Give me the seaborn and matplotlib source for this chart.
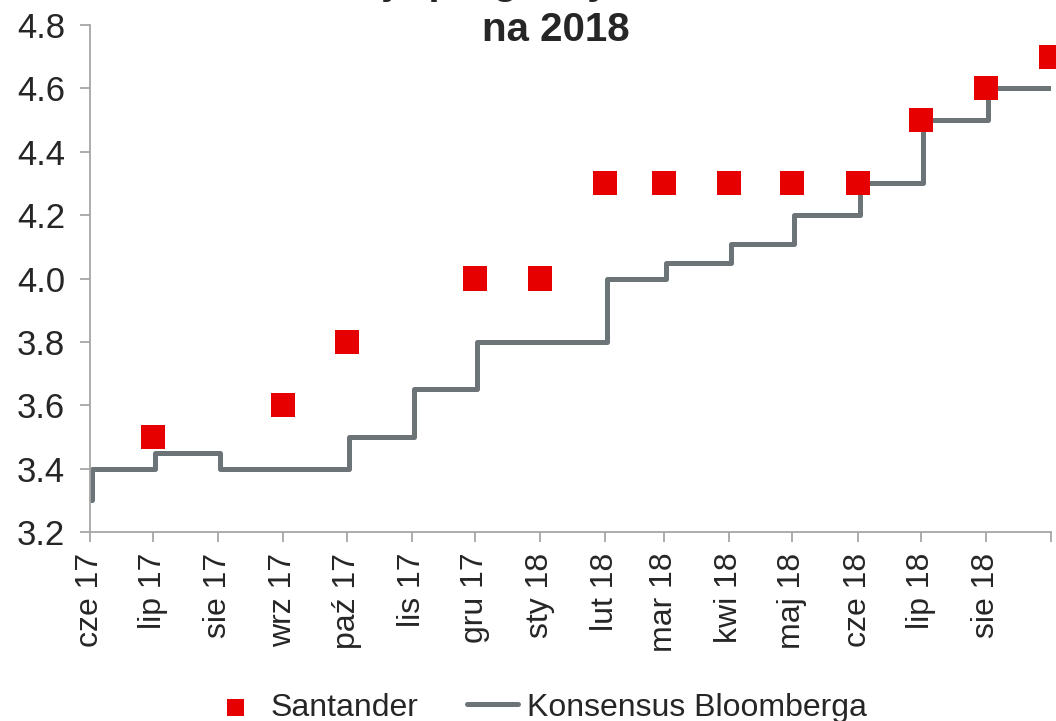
import pandas as pd
import matplotlib
matplotlib.use('Agg')
import matplotlib.pyplot as plt
import seaborn as sns

# Santander forecasts (month starts)
santander_dates = ['2017-07-01', '2017-09-01', '2017-10-01', '2017-12-01', '2018-01-01',
                   '2018-02-01', '2018-03-01', '2018-04-01', '2018-05-01', '2018-06-01',
                   '2018-07-01', '2018-08-01', '2018-09-01']
santander_vals = [3.5, 3.6, 3.8, 4.0, 4.0, 4.3, 4.3, 4.3, 4.3, 4.3, 4.5, 4.6, 4.7]

# Bloomberg consensus (changes)
cons_dates = ['2017-06-01', '2017-06-02', '2017-07-02', '2017-08-02', '2017-10-02',
              '2017-11-02', '2017-12-02', '2018-02-02', '2018-03-02', '2018-04-02',
              '2018-05-02', '2018-06-02', '2018-07-02', '2018-08-02', '2018-09-01']
cons_vals = [3.3, 3.4, 3.45, 3.4, 3.5, 3.65, 3.8, 4.0, 4.05, 4.11, 4.2, 4.3, 4.5, 4.6, 4.6]

tick_labels = ['cze 17', 'lip 17', 'sie 17', 'wrz 17', 'paź 17', 'lis 17', 'gru 17',
               'sty 18', 'lut 18', 'mar 18', 'kwi 18', 'maj 18', 'cze 18', 'lip 18',
               'sie 18', '']

df_s = pd.DataFrame({'date': pd.to_datetime(santander_dates), 'val': santander_vals})
df_c = pd.DataFrame({'date': pd.to_datetime(cons_dates), 'val': cons_vals})

sns.set_style('white')
plt.rcParams['font.family'] = ['Liberation Sans', 'DejaVu Sans']

fig = plt.figure(figsize=(10.56, 7.21), dpi=100)
ax = fig.add_axes([0.0852, 0.2621, 0.9101, 0.7032])

sns.lineplot(data=df_c, x='date', y='val', ax=ax, color='#6d7478', linewidth=3.6,
             drawstyle='steps-post', label='Konsensus Bloomberga', zorder=2,
             solid_capstyle='round', solid_joinstyle='round')
sns.scatterplot(data=df_s, x='date', y='val', ax=ax, marker='s', s=300, color='#e60000',
                edgecolor='none', linewidth=0, label='Santander', zorder=3, clip_on=False)

ticks = pd.date_range('2017-06-01', '2018-09-01', freq='MS')
ax.set_xlim(ticks[0], ticks[-1])
ax.set_xticks(ticks)
ax.set_xticklabels(tick_labels, rotation=90, fontsize=23)
ax.set_ylim(3.2, 4.8)
ax.set_yticks([3.2, 3.4, 3.6, 3.8, 4.0, 4.2, 4.4, 4.6, 4.8])
ax.set_yticklabels(['%.1f' % v for v in ax.get_yticks()], fontsize=25)
ax.set_xlabel('')
ax.set_ylabel('')

for side in ['top', 'right']:
    ax.spines[side].set_visible(False)
for side in ['left', 'bottom']:
    ax.spines[side].set_color('#a6a6a6')
    ax.spines[side].set_linewidth(1.3)
ax.tick_params(axis='both', which='major', length=7, width=1.3, color='#a6a6a6',
               direction='out', left=True, bottom=True)
ax.tick_params(axis='x', pad=8)
ax.tick_params(axis='y', pad=11)

# title: first line runs off the top edge, only "na 2018" fully visible
fig.text(0.526, 0.959, 'na 2018', ha='center', va='center',
         fontsize=29, fontweight='bold')
fig.text(0.526, 1.009, 'Ewolucja prognozy wzrostu PKB', ha='center', va='baseline',
         fontsize=29, fontweight='bold')

handles, labels = ax.get_legend_handles_labels()
ax.get_legend().remove()
order = [labels.index('Santander'), labels.index('Konsensus Bloomberga')]
fig.legend([handles[i] for i in order], [labels[i] for i in order], loc='lower center',
           bbox_to_anchor=(0.51, -0.042), ncol=2, frameon=False, fontsize=23,
           handlelength=1.6, handletextpad=0.3, columnspacing=1.5, markerscale=0.7)

fig.savefig('out.png', dpi=100)
